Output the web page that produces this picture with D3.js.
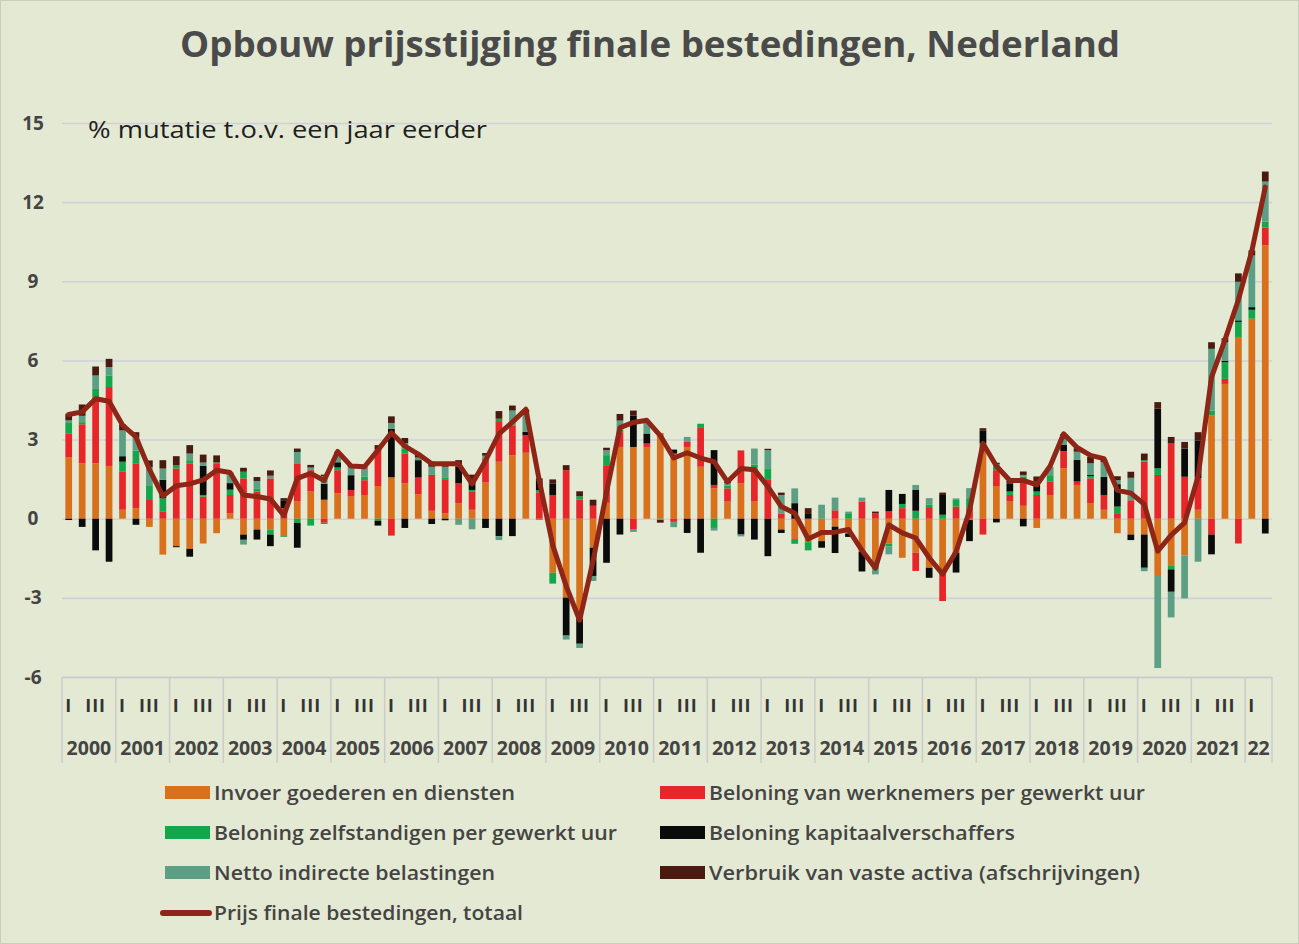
<!DOCTYPE html>
<html><head><meta charset="utf-8">
<script src="https://cdn.jsdelivr.net/npm/d3@7"></script>
<style>body{margin:0;background:#e4e9d3;} svg{display:block}</style>
</head><body><svg id="chart" width="1299" height="944"></svg>
<script>
// ---------- DATA ----------
const years = ["2000","2001","2002","2003","2004","2005","2006","2007","2008","2009","2010",
  "2011","2012","2013","2014","2015","2016","2017","2018","2019","2020","2021","22"];
const quarterNames = ["I","II","III","IV"];
const quarterLabels = ["I","","III",""];
const yTicks = [-6,-3,0,3,6,9,12,15];

const invoer = [2.32,2.1,2.1,2.0, 0.34,0.4,-0.31,-1.36, -1.04,-1.14,-0.94,-0.55, 0.2,-0.6,-0.41,-0.41,
  -0.66,0.65,1.03,0.72, 0.97,0.84,0.9,1.24, 1.57,1.34,0.93,0.3, 0.21,0.59,0.34,1.37,
  2.16,2.41,2.5,-0.05, -2.05,-2.99,-3.8,-1.1, 0.6,2.72,2.72,2.72, 3.25,2.47,2.72,1.97,
  1.15,0.65,1.34,0.65, 0,-0.41,-0.77,-0.89, -0.85,-0.3,-0.56,-1.25, -1.61,-0.94,-1.48,-1.29,
  -1.86,-2.05,-1.29,-0.05, 2.8,1.24,0.65,0.49, -0.35,0.9,1.91,1.28, 0.59,0.34,-0.55,-0.6,
  -0.6,-2.17,-1.79,-1.39, 0.34,3.91,5.11,6.89, 7.58,10.37];
const werknemers = [0.9,1.48,2.5,2.99, 1.44,1.7,0.71,0.28, 1.9,2.1,0.84,2.08, 0.7,1.53,1.03,1.53,
  0.4,1.45,0.81,-0.15, 0.87,0.25,0.56,1.4, -0.64,1.13,0.63,1.36, 1.26,0.75,0.7,0.92,
  1.54,1.13,0.66,1.0, 0.9,1.84,0.72,0.49, 1.43,0.56,-0.39,0.13, 0,-0.12,0.19,1.5,
  0.13,0.5,1.25,1.25, 1.47,0.2,0,0, 0,0.32,0,0.65, 0.21,0.28,0.4,-0.69,
  0.44,-1.07,0.46,0.4, -0.6,0.6,0.25,0.98, 0.9,0.5,0.65,0.13, 0.94,0.56,0.21,0.7,
  2.16,1.66,2.85,1.59, 1.19,-0.6,0.19,-0.94, 0,0.67];
const zelfstandigen = [0.41,0.08,0.32,0.44, 0.38,0.48,0.56,0.5, 0.13,0.12,0.06,0.05, 0.2,0.25,0.1,-0.19,
  -0.03,-0.16,-0.26,-0.05, 0.1,0,0.13,-0.08, 0,0.19,0,0, 0.1,0,0.05,0,
  0.09,0,0,0.08, -0.41,0,0.13,0, 0.38,0.09,0,0, 0,0,0,0.13,
  -0.35,0.1,0,0.15, 0.44,0,-0.18,-0.31, 0,0,0.21,0, -0.31,-0.1,0.16,0.3,
  0.1,0.15,0.25,0.38, 0.05,0.13,0.13,0.13, 0.13,0.25,0,0, 0.09,0,0.25,0,
  0.06,0.25,-0.13,0, 0,0.19,0.63,0.57, 0.34,0.22];
const kapitaal = [-0.05,-0.31,-1.2,-1.63, 0.21,-0.23,0,0.69, -0.04,-0.3,1.1,0, 0.25,-0.2,-0.38,-0.44,
  0.3,-0.94,0,0.6, 0.2,0.56,0,-0.18, 1.84,-0.35,0.66,-0.2, -0.06,0.63,0.38,-0.35,
  -0.66,-0.66,0.13,0.35, 0.44,-1.44,-0.94,-1.07, -1.67,-0.6,1.19,0.38, 0,0.15,-0.54,-1.29,
  1.32,0,-0.6,-0.79, -1.42,-0.13,0.59,0.21, -0.25,-1.0,-0.13,-0.75, 0,0.81,0.38,0.79,
  -0.38,0.75,-0.75,-0.8, 0.5,-0.14,0.31,-0.29, 0.38,0,0.25,0.82, 0.04,0.69,0.85,-0.21,
  -1.26,2.26,-0.85,1.07, 1.44,-0.75,0.06,0.06, 0.1,-0.56];
const belastingen = [0.1,0.24,0.51,0.32, 0.98,0.51,0.69,0.43, 0,0.25,0.13,0, 0.35,-0.18,0.3,0.1,
  0,0.43,0.1,0.3, 0.3,0.3,0.32,0, 0.22,0.2,0.1,0.31, 0.4,-0.23,-0.4,0.1,
  -0.15,0.56,0.75,0, 0,-0.15,-0.16,-0.19, 0.19,0.35,-0.11,0.4, -0.05,-0.2,0.19,0,
  -0.1,0.1,-0.07,0.61, 0.69,0.7,0.56,0, 0.53,0.48,0.06,0.15, -0.19,-0.31,0,0.19,
  0.24,0,0.06,0.38, 0,0.1,0,0.06, 0,0.31,0.3,0.31, 0.44,0.55,0.15,0.85,
  -0.13,-3.49,-0.97,-1.63, -1.63,2.34,0.7,1.46, 1.96,1.52];
const afschrijvingen = [0.25,0.43,0.34,0.31, 0.23,0.19,0.25,0.32, 0.34,0.32,0.3,0.27, 0.05,0.15,0.15,0.2,
  0.08,0.13,0.1,0.05, 0.1,0.05,0.03,0.15, 0.25,0.2,0.1,0.19, 0.1,0.25,0.2,0.1,
  0.29,0.19,0.1,0.1, 0.15,0.19,0.19,0.23, 0.09,0.25,0.19,0.05, -0.1,0,0,0,
  0,0.05,0,0, 0.05,0.09,0,0.19, 0,0,0,0, 0.06,0,0,0,
  0,0.09,0,0, 0.08,0.05,0.1,0.13, 0.19,0,0.1,0.13, 0.25,0.1,0.15,0.23,
  0.25,0.25,0.25,0.25, 0.31,0.25,0.15,0.32, 0.19,0.38];
const totaal = [3.95,4.05,4.55,4.45, 3.55,3.1,1.87,0.86, 1.25,1.32,1.47,1.84, 1.75,0.9,0.84,0.75,
  0.12,1.53,1.72,1.45, 2.55,2.0,1.97,2.6, 3.26,2.75,2.45,2.08, 2.08,2.08,1.32,2.2,
  3.22,3.66,4.15,1.45, -1.0,-2.55,-3.85,-1.6, 1.0,3.45,3.65,3.73, 3.15,2.3,2.5,2.3,
  2.16,1.4,1.9,1.86, 1.22,0.46,0.21,-0.77, -0.52,-0.51,-0.41,-1.2, -1.88,-0.23,-0.54,-0.73,
  -1.48,-2.1,-1.25,0.3, 2.85,2.0,1.45,1.45, 1.28,2.0,3.22,2.7, 2.4,2.28,1.08,0.97,
  0.55,-1.23,-0.62,-0.15, 1.6,5.36,6.78,8.3, 10.15,12.57];

const seriesKeys = ["invoer","werknemers","zelfstandigen","kapitaal","belastingen","afschrijvingen"];
const seriesNames = ["Invoer goederen en diensten","Beloning van werknemers per gewerkt uur",
  "Beloning zelfstandigen per gewerkt uur","Beloning kapitaalverschaffers",
  "Netto indirecte belastingen","Verbruik van vaste activa (afschrijvingen)"];
const lineName = "Prijs finale bestedingen, totaal";

// ---------- STYLE / LAYOUT ----------
const colors = {invoer:"#d8701c", werknemers:"#e8262a", zelfstandigen:"#13a64a", kapitaal:"#0b0b0b",
  belastingen:"#5c9f84", afschrijvingen:"#4a1a10"};
const lineColor = "#8e2516";
const textColor = "#444444";
const fontFam = "'Open Sans','DejaVu Sans',sans-serif";

const svg = d3.select("#chart");
svg.append("rect").attr("x",0.5).attr("y",0.5).attr("width",1298).attr("height",943)
  .attr("fill","#e4e9d3").attr("stroke","#c9cdbd");

const categories = years.flatMap(yr => quarterNames.map(q => yr + "-" + q)).slice(0, invoer.length);
const x = d3.scaleBand().domain(categories).range([62,1272]).paddingInner(0.5).paddingOuter(0.25);
const y = d3.scaleLinear().domain([-6,15]).range([677,123]);

// gridlines + y labels
const yAxis = svg.append("g").attr("transform","translate(62,0)")
  .call(d3.axisLeft(y).tickValues(yTicks).tickSize(-(1272-62)).tickFormat(d => String(d)));
yAxis.select(".domain").remove();
yAxis.selectAll(".tick line").attr("stroke","#cfd0da").attr("stroke-width",1.6);
yAxis.selectAll(".tick text").attr("x",-29).attr("text-anchor","middle")
  .attr("font-family",fontFam).attr("font-weight","bold").attr("font-size",19).attr("fill",textColor);

// stacked bars
const table = categories.map((c,i) => ({cat:c, invoer:invoer[i], werknemers:werknemers[i],
  zelfstandigen:zelfstandigen[i], kapitaal:kapitaal[i], belastingen:belastingen[i], afschrijvingen:afschrijvingen[i]}));
const stacked = d3.stack().keys(seriesKeys).offset(d3.stackOffsetDiverging)(table);
svg.append("g").selectAll("g").data(stacked).join("g")
  .attr("fill", s => colors[s.key])
  .selectAll("rect").data(s => s).join("rect")
  .attr("x", d => x(d.data.cat))
  .attr("width", x.bandwidth())
  .attr("y", d => y(Math.max(d[0],d[1])))
  .attr("height", d => Math.abs(y(d[0]) - y(d[1])));

// total line
const line = d3.line().x((d,i) => x(categories[i]) + x.bandwidth()/2).y(d => y(d));
svg.append("path").datum(totaal).attr("d",line).attr("fill","none")
  .attr("stroke",lineColor).attr("stroke-width",5).attr("stroke-linejoin","round").attr("stroke-linecap","round");

// category axis
const xAxis = svg.append("g").attr("transform","translate(0,677)")
  .call(d3.axisBottom(x).tickSize(0).tickFormat((c,i) => quarterLabels[i % 4]));
xAxis.select(".domain").attr("stroke","#cbcbcb").attr("stroke-width",1.5);
xAxis.selectAll(".tick text").attr("y",35).attr("dy",0)
  .attr("font-family",fontFam).attr("font-weight","bold").attr("font-size",18).attr("fill","#333")
  .attr("letter-spacing",1);

const step = x.step();
const yearGroups = years.map((yr,k) => {
  const cats = categories.filter(c => c.startsWith(yr + "-"));
  const x0 = x(cats[0]) - (step - x.bandwidth())/2;
  const x1 = x(cats[cats.length-1]) + x.bandwidth() + (step - x.bandwidth())/2;
  return {yr, x0, x1};
});
const sep = svg.append("g");
sep.selectAll("line").data([yearGroups[0].x0, ...yearGroups.map(g => g.x1)]).join("line")
  .attr("x1",d=>d).attr("x2",d=>d).attr("y1",677).attr("y2",763)
  .attr("stroke","#cbcbcb").attr("stroke-width",1.5);
svg.append("g").selectAll("text").data(yearGroups).join("text")
  .attr("x", g => (g.x0 + g.x1)/2).attr("y",755).attr("text-anchor","middle")
  .attr("font-family",fontFam).attr("font-weight","bold").attr("font-size",19.5).attr("fill",textColor)
  .text(g => g.yr);

// titles
svg.append("text").attr("x",650).attr("y",57).attr("text-anchor","middle")
  .attr("font-family",fontFam).attr("font-weight","bold").attr("font-size",35).attr("fill","#4a4a4a")
  .attr("textLength",940).attr("lengthAdjust","spacingAndGlyphs")
  .text("Opbouw prijsstijging finale bestedingen, Nederland");
svg.append("text").attr("x",88).attr("y",138)
  .attr("font-family",fontFam).attr("font-size",23).attr("fill","#1e1e1e")
  .attr("textLength",399).attr("lengthAdjust","spacingAndGlyphs")
  .text("% mutatie t.o.v. een jaar eerder");

// legend
const legendPos = [
  {sx:165, tx:214, y:793, w:301}, {sx:660, tx:709, y:793, w:436},
  {sx:165, tx:214, y:833, w:403}, {sx:660, tx:709, y:833, w:306},
  {sx:165, tx:214, y:873, w:281}, {sx:660, tx:709, y:873, w:431}];
const leg = svg.append("g");
seriesKeys.forEach((k,i) => {
  const p = legendPos[i];
  leg.append("rect").attr("x",p.sx).attr("y",p.y-7).attr("width",45).attr("height",13).attr("fill",colors[k]);
  leg.append("text").attr("x",p.tx).attr("y",p.y+7)
    .attr("font-family",fontFam).attr("font-weight",600).attr("font-size",19).attr("fill",textColor)
    .attr("textLength",p.w).attr("lengthAdjust","spacingAndGlyphs").text(seriesNames[i]);
});
leg.append("line").attr("x1",163).attr("x2",209).attr("y1",913).attr("y2",913)
  .attr("stroke",lineColor).attr("stroke-width",6).attr("stroke-linecap","round");
leg.append("text").attr("x",214).attr("y",920)
  .attr("font-family",fontFam).attr("font-weight",600).attr("font-size",19).attr("fill",textColor)
  .attr("textLength",309).attr("lengthAdjust","spacingAndGlyphs").text(lineName);
</script>
</body></html>
